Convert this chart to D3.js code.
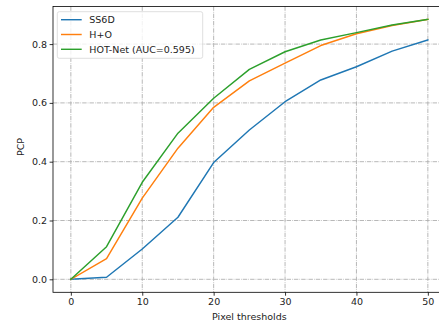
<!DOCTYPE html>
<html>
<head>
<meta charset="utf-8">
<script src="https://cdn.jsdelivr.net/npm/d3@7"></script>
<style>
	html, body { margin: 0; padding: 0; background: #fff; overflow: hidden; }
	svg { display: block; font-family: 'DejaVu Sans', sans-serif; }
</style>
</head>
<body>
<svg id="chart" width="439" height="324"></svg>
<script>
const thresholds = [0, 5, 10, 15, 20, 25, 30, 35, 40, 45, 50];
const ss6d = [0, 0.007, 0.103, 0.211, 0.397, 0.508, 0.604, 0.678, 0.723, 0.776, 0.814];
const handObject = [0, 0.070, 0.276, 0.446, 0.585, 0.675, 0.735, 0.795, 0.835, 0.863, 0.884];
const hotNet = [0, 0.111, 0.330, 0.497, 0.616, 0.714, 0.774, 0.814, 0.839, 0.865, 0.884];
const seriesNames = ['SS6D', 'H+O', 'HOT-Net (AUC=0.595)'];
const xTickValues = [0, 10, 20, 30, 40, 50];
const yTickValues = [0, 0.2, 0.4, 0.6, 0.8];

const seriesColors = ['#1f77b4', '#ff7f0e', '#2ca02c'];
const series = [ss6d, handObject, hotNet].map((values, i) => ({
	name: seriesNames[i],
	color: seriesColors[i],
	points: values.map((v, j) => ({ x: thresholds[j], y: v }))
}));

const margin = { top: 6.4, left: 53 };
const width = 392.7;
const height = 285.9;

const xScale = d3.scaleLinear([-2.5, 52.5], [0, width]);
const yScale = d3.scaleLinear([-0.0442, 0.9282], [height, 0]);

const svg = d3.select('#chart');
const g = svg.append('g').attr('transform', `translate(${margin.left}, ${margin.top})`);

/** GRIDS *******************************************************************/
const gridStyle = (sel) =>
	sel
		.attr('stroke', '#b0b0b0')
		.attr('stroke-width', 0.9)
		.attr('stroke-dasharray', '4.4,1.1,0.7,1.1')
		.attr('fill', 'none');

g.selectAll('.grid-x')
	.data(xTickValues)
	.enter()
	.append('line')
	.attr('x1', (d) => xScale(d))
	.attr('x2', (d) => xScale(d))
	.attr('y1', 0)
	.attr('y2', height)
	.call(gridStyle);

g.selectAll('.grid-y')
	.data(yTickValues)
	.enter()
	.append('line')
	.attr('x1', 0)
	.attr('x2', width)
	.attr('y1', (d) => yScale(d))
	.attr('y2', (d) => yScale(d))
	.call(gridStyle);

/** DATA ********************************************************************/
const line = d3
	.line()
	.x((d) => xScale(d.x))
	.y((d) => yScale(d.y));

g.selectAll('.series')
	.data(series)
	.enter()
	.append('path')
	.attr('fill', 'none')
	.attr('stroke', (d) => d.color)
	.attr('stroke-width', 1.45)
	.attr('stroke-linejoin', 'round')
	.attr('stroke-linecap', 'square')
	.attr('d', (d) => line(d.points));

/** AXES ********************************************************************/
const bottomAxis = d3
	.axisBottom(xScale)
	.tickValues(xTickValues)
	.tickSize(3.4)
	.tickPadding(2.5)
	.tickFormat(d3.format('d'));
const xAxisG = g.append('g').attr('transform', `translate(0, ${height})`).call(bottomAxis);

const leftAxis = d3
	.axisLeft(yScale)
	.tickValues(yTickValues)
	.tickSize(3.4)
	.tickPadding(2.5)
	.tickFormat(d3.format('.1f'));
const yAxisG = g.append('g').call(leftAxis);

[xAxisG, yAxisG].forEach((ax) => {
	ax.select('.domain').remove();
	ax.selectAll('line').attr('stroke', '#000').attr('stroke-width', 0.8);
	ax.selectAll('text')
		.attr('fill', '#222')
		.style('font-size', '9.5px')
		.style('font-family', "'DejaVu Sans', sans-serif");
});

// frame
g.append('rect')
	.attr('x', 0)
	.attr('y', 0)
	.attr('width', width)
	.attr('height', height)
	.attr('fill', 'none')
	.attr('stroke', '#000')
	.attr('stroke-width', 0.8);

svg.append('text')
	.attr('x', margin.left + xScale(25))
	.attr('y', 320)
	.attr('text-anchor', 'middle')
	.attr('fill', '#222')
	.style('font-size', '9.5px')
	.text('Pixel thresholds');

svg.append('text')
	.attr('transform', `translate(24, ${margin.top + yScale(0.45)}) rotate(-90)`)
	.attr('text-anchor', 'middle')
	.attr('fill', '#222')
	.style('font-size', '9.5px')
	.text('PCP');

/** LEGEND ******************************************************************/
const legend = svg.append('g').attr('transform', 'translate(57.3, 11.7)');
legend
	.append('rect')
	.attr('width', 145.4)
	.attr('height', 46.6)
	.attr('rx', 2)
	.attr('fill', 'rgba(255,255,255,0.8)')
	.attr('stroke', '#d6d6d6')
	.attr('stroke-width', 0.8);

const items = legend
	.selectAll('.legend-item')
	.data(series)
	.enter()
	.append('g')
	.attr('transform', (d, i) => `translate(0, ${8 + i * 14.8})`);

items
	.append('line')
	.attr('x1', 3.7)
	.attr('x2', 24.4)
	.attr('y1', 0)
	.attr('y2', 0)
	.attr('stroke', (d) => d.color)
	.attr('stroke-width', 1.45);

items
	.append('text')
	.attr('x', 32)
	.attr('y', 0)
	.attr('dy', '0.35em')
	.attr('fill', '#222')
	.style('font-size', '9.5px')
	.text((d) => d.name);
</script>
</body>
</html>
